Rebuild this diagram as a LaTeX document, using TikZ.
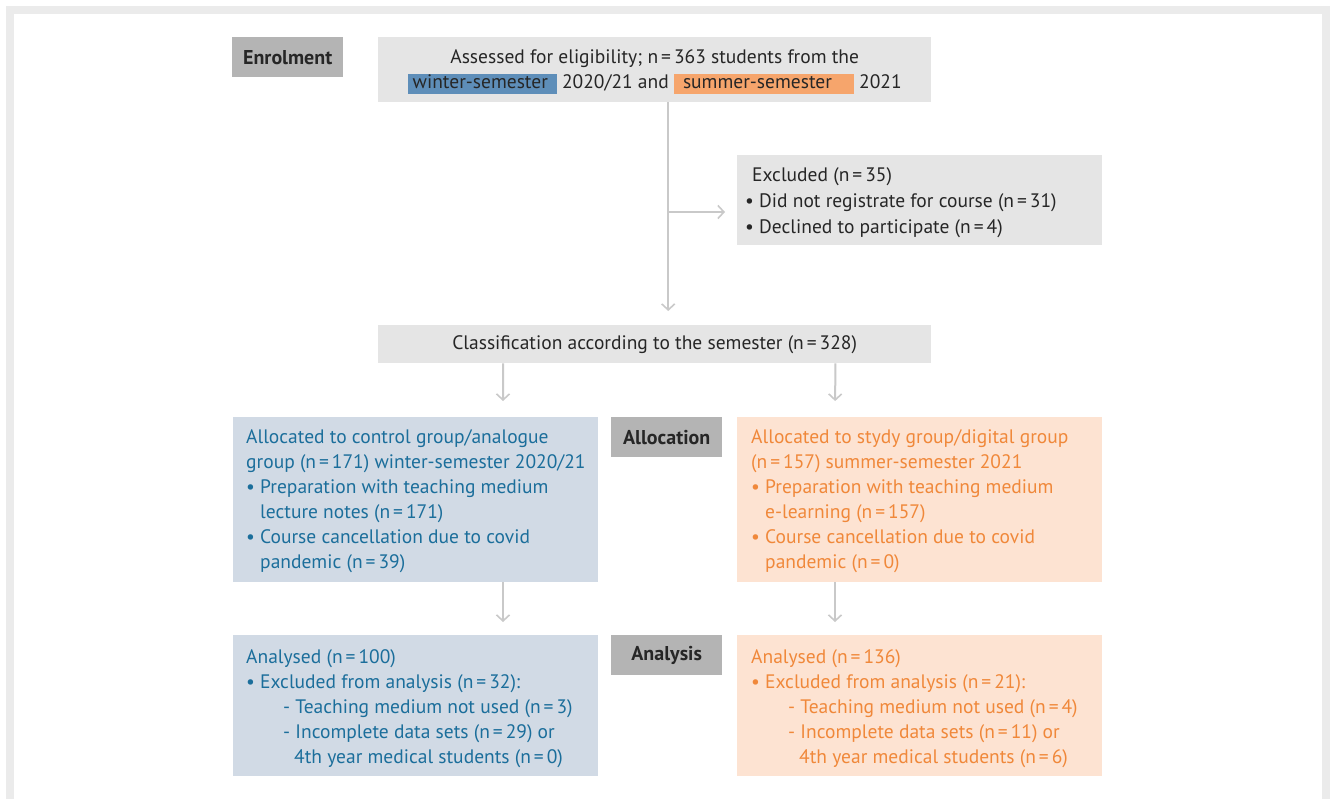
\documentclass[tikz,border=0pt]{standalone}
\usepackage{fontspec}
\setmainfont{PT Sans}
\usetikzlibrary{arrows.meta}
\definecolor{framegray}{HTML}{EBEBEB}
\definecolor{boxgray}{HTML}{E5E5E5}
\definecolor{labgray}{HTML}{B4B4B4}
\definecolor{bluefill}{HTML}{D1DAE5}
\definecolor{bluetext}{HTML}{1B6E9B}
\definecolor{orfill}{HTML}{FDE3D2}
\definecolor{ortext}{HTML}{F0883A}
\definecolor{winthl}{HTML}{5E8EB9}
\definecolor{sumhl}{HTML}{F6A56C}
\definecolor{arrgray}{HTML}{C9C9C9}
\definecolor{dtext}{HTML}{262626}
\newcommand\bul{\makebox[14bp][l]{\textbullet}}
\newcommand\ind{\hspace*{14bp}}
\newcommand\eqn{\kern3bp=\kern3bp}
\begin{document}
\begin{tikzpicture}[x=1bp,y=-1bp,
  txt/.style={font=\fontsize{19.5bp}{25bp}\selectfont, text=dtext},
  labbox/.style={fill=labgray, anchor=north west, inner sep=0, minimum width=111bp, minimum height=40bp, text=dtext, font=\fontsize{20bp}{25bp}\selectfont\bfseries},
  gbox/.style={txt, fill=boxgray, anchor=north west, inner sep=0, align=center},
  plainbox/.style={anchor=north west, inner sep=0, minimum width=365bp},
  listtxt/.style={txt, anchor=west, inner sep=0, align=left}
]
\tikzset{arr/.style={draw=arrgray, line width=2bp, -{Straight Barb[length=6bp,width=13bp,line width=1.6bp]}}}
\useasboundingbox (0,0) rectangle (1330,799);
% frame
\fill[framegray] (6,6) rectangle (1330,799);
\fill[white] (14,14) rectangle (1322,799);

% labels
\node[labbox] (enrol) at (232,37) {Enrolment};
\node[labbox] (alloc) at (611,417) {Allocation};
\node[labbox] (anal) at (611,635) {Analysis};

% top box
\node[gbox, minimum width=553bp, minimum height=65bp] (top) at (378,37) {};
\node[txt, align=center, inner sep=0] (toptxt) at ([yshift=-2bp]top.center)
 {Assessed for eligibility; n\eqn 363 students from the\\
 {\setlength{\fboxsep}{0pt}\colorbox{winthl}{\rule[-5bp]{0pt}{20bp}\hspace*{5bp}winter-semester\hspace*{9bp}}}\ 2020/21 and\ {\setlength{\fboxsep}{0pt}\colorbox{sumhl}{\rule[-5bp]{0pt}{20bp}\hspace*{9bp}summer-semester\hspace*{22bp}}}\ 2021};

% excluded box
\node[plainbox, fill=boxgray, minimum height=90bp] (excl) at (737,155) {};
\node[listtxt, font=\fontsize{19.5bp}{26bp}\selectfont] (excltxt) at ([xshift=8bp,yshift=-2.5bp]excl.west)
 {\hspace*{7bp}Excluded (n\eqn 35)\\
  \bul Did not registrate for course (n\eqn 31)\\
  \bul Declined to participate (n\eqn 4)};

% classification
\node[gbox, minimum width=553bp, minimum height=38bp] (class) at (378,325)
 {Classification according to the semester (n\eqn 328)};

% allocation boxes
\node[plainbox, fill=bluefill, minimum height=165bp] (blue) at (233,417) {};
\node[listtxt, text=bluetext] (bluetxt) at ([xshift=13bp,yshift=-1.5bp]blue.west)
 {Allocated to control group/analogue\\
  group (n\eqn 171) winter-semester 2020/21\\
  \bul Preparation with teaching medium\\
  \ind lecture notes (n\eqn 171)\\
  \bul Course cancellation due to covid\\
  \ind pandemic (n\eqn 39)};
\node[plainbox, fill=orfill, minimum height=165bp] (orange) at (737,417) {};
\node[listtxt, text=ortext] (orangetxt) at ([xshift=14bp,yshift=-1.5bp]orange.west)
 {Allocated to stydy group/digital group\\
  (n\eqn 157) summer-semester 2021\\
  \bul Preparation with teaching medium\\
  \ind e-learning (n\eqn 157)\\
  \bul Course cancellation due to covid\\
  \ind pandemic (n\eqn 0)};

% analysis boxes
\node[plainbox, fill=bluefill, minimum height=141bp] (bana) at (233,635) {};
\node[listtxt, text=bluetext] (banatxt) at ([xshift=13bp,yshift=-2.5bp]bana.west)
 {Analysed (n\eqn 100)\\
  \bul Excluded from analysis (n\eqn 32):\\
  \hspace*{37bp}- Teaching medium not used (n\eqn 3)\\
  \hspace*{37bp}- Incomplete data sets (n\eqn 29) or\\
  \hspace*{48bp}4th year medical students (n\eqn 0)};
\node[plainbox, fill=orfill, minimum height=141bp] (oana) at (737,635) {};
\node[listtxt, text=ortext] (oanatxt) at ([xshift=14bp,yshift=-2.5bp]oana.west)
 {Analysed (n\eqn 136)\\
  \bul Excluded from analysis (n\eqn 21):\\
  \hspace*{37bp}- Teaching medium not used (n\eqn 4)\\
  \hspace*{37bp}- Incomplete data sets (n\eqn 11) or\\
  \hspace*{48bp}4th year medical students (n\eqn 6)};

% connectors
\coordinate (br) at (668,212);
\draw[arr, shorten >=14bp] ([xshift=13.5bp]top.south) -- ([xshift=13.5bp]class.north);
\draw[arr, shorten >=12bp] (br) -- (br -| excl.west);
\draw[arr, shorten >=16bp] ([xshift=125bp]class.south west) -- ([xshift=270bp]blue.north west);
\draw[arr, shorten >=16bp] ([xshift=-96bp]class.south east) -- ([xshift=98bp]orange.north west);
\draw[arr, shorten >=13bp] ([xshift=270bp]blue.south west) -- ([xshift=270bp]bana.north west);
\draw[arr, shorten >=13bp] ([xshift=98bp]orange.south west) -- ([xshift=98bp]oana.north west);
\end{tikzpicture}
\end{document}
